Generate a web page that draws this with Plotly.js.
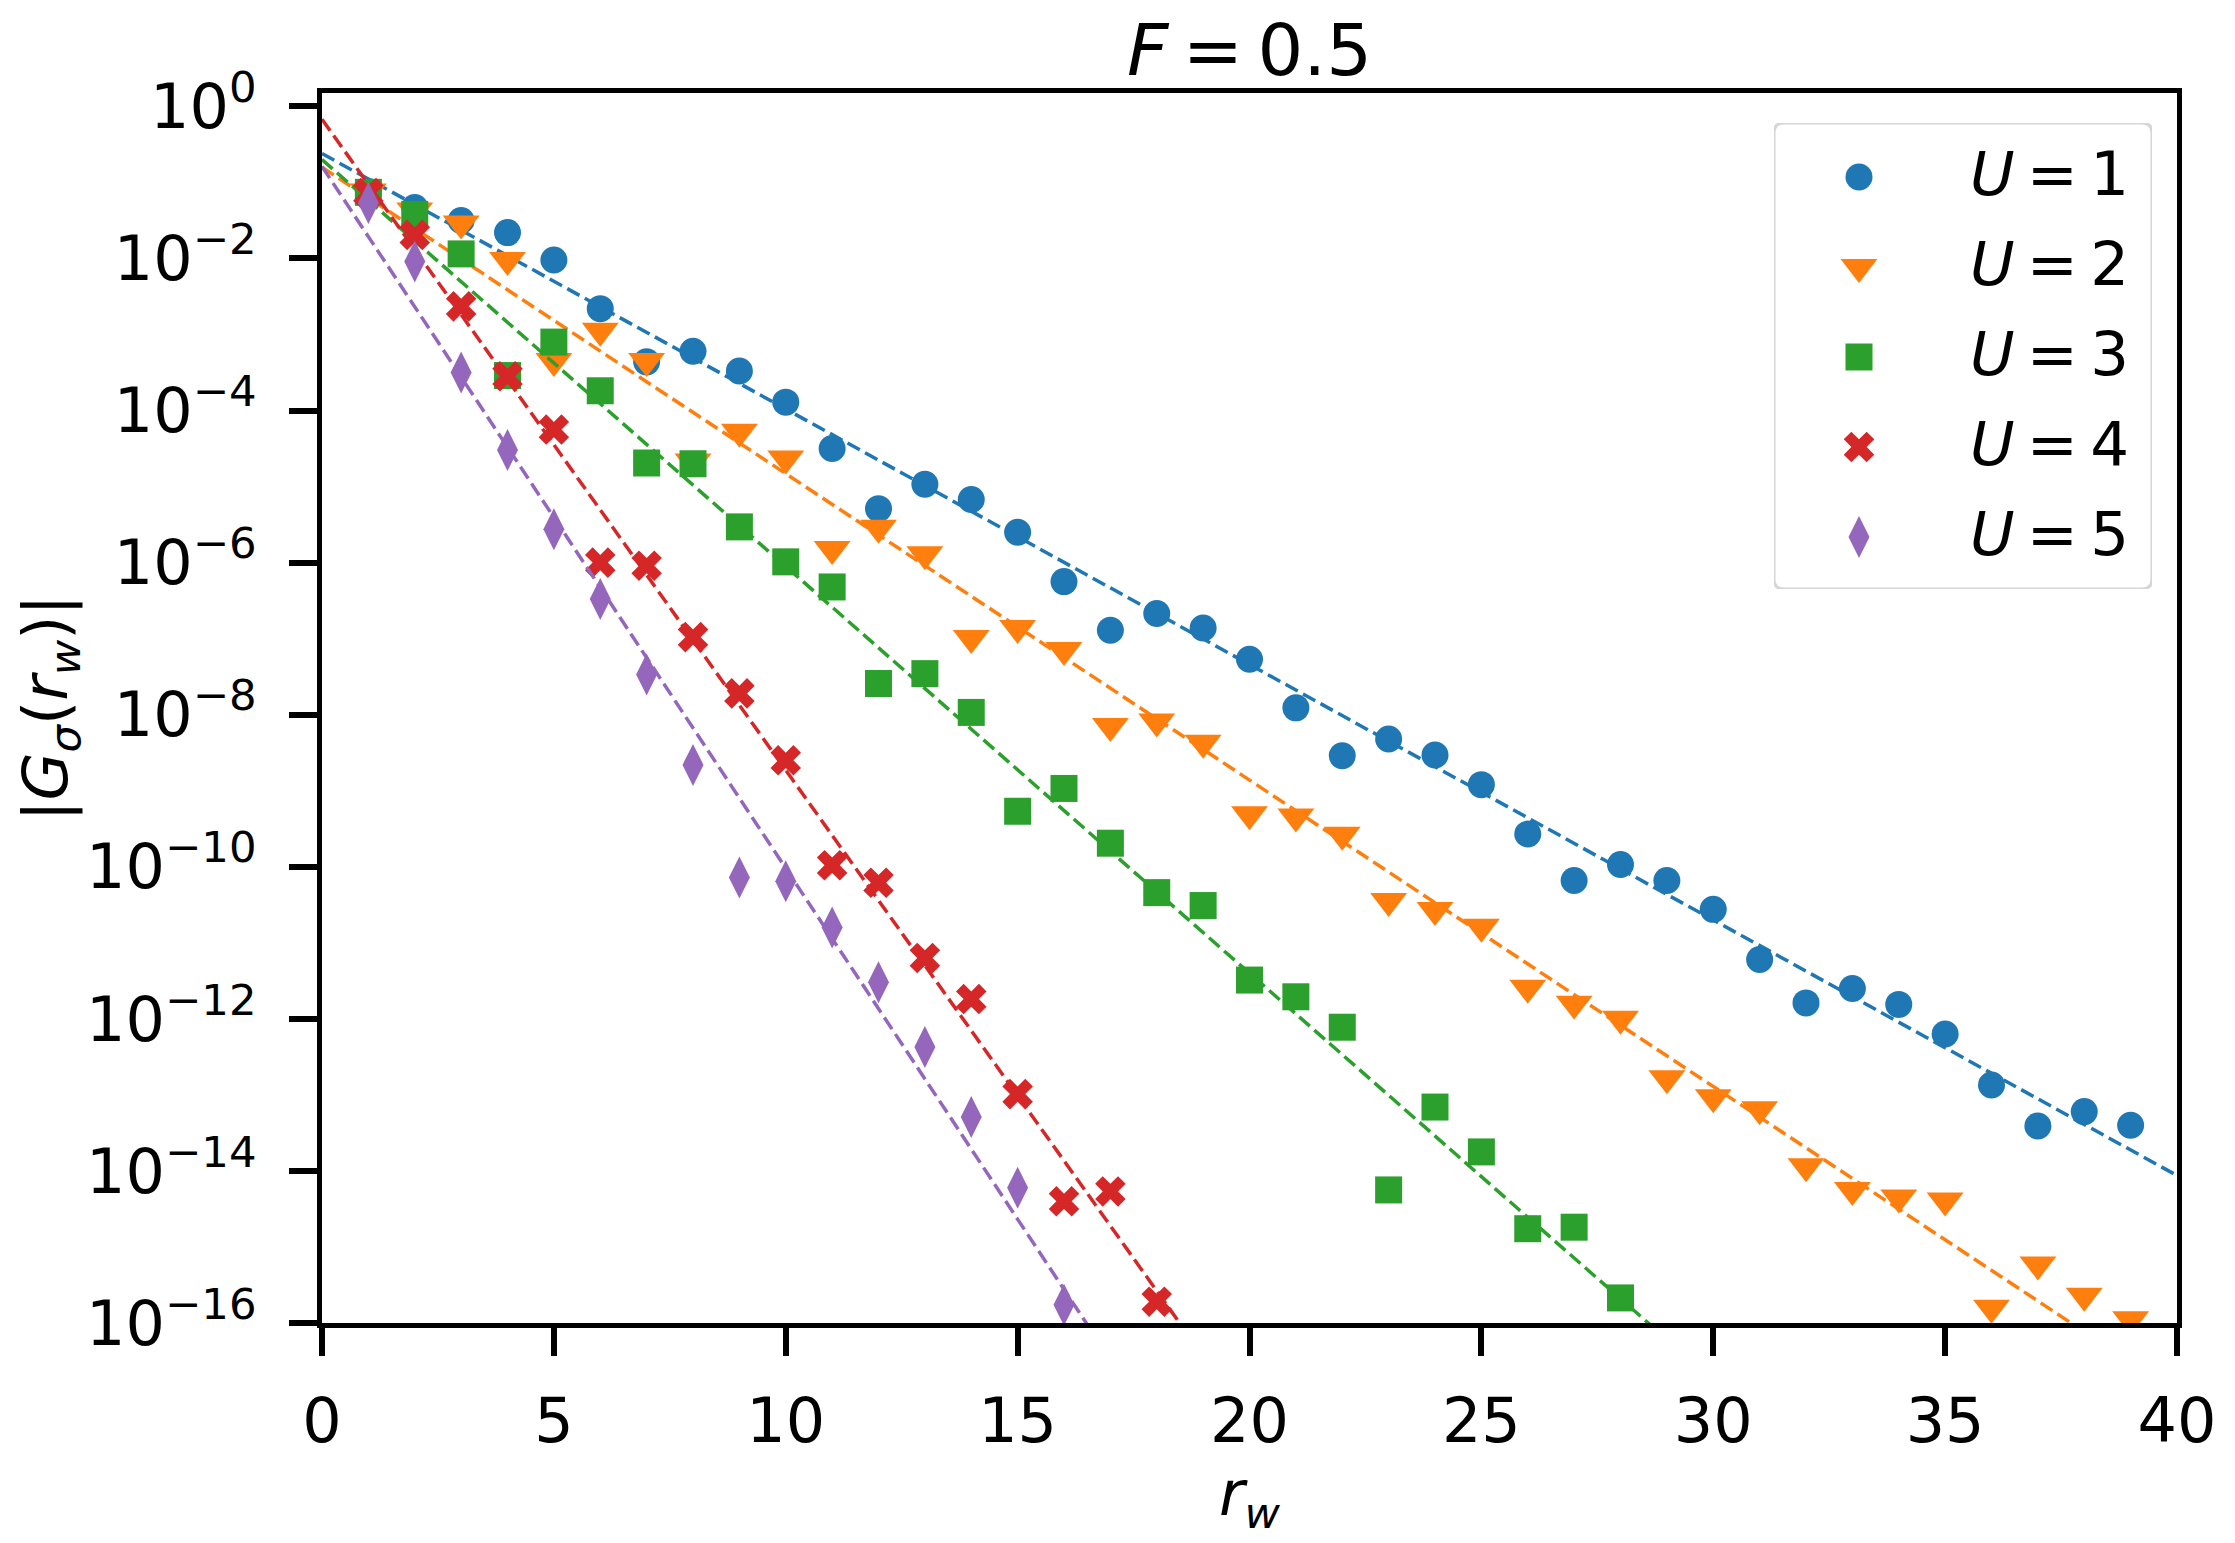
<!DOCTYPE html>
<html>
<head>
<meta charset="utf-8">
<script src="https://cdn.plot.ly/plotly-3.0.1.min.js"></script>
<style>
  html, body { margin: 0; padding: 0; background: #fff; }
  #plot { width: 2235px; height: 1543px; }
</style>
</head>
<body>
<div id="plot"></div>
<script>
// interaction strengths and colours (matplotlib tab10)
var uValues = [1, 2, 3, 4, 5];
var colors = ['#1f77b4', '#ff7f0e', '#2ca02c', '#d62728', '#9467bd'];
var symbols = ['circle', 'triangle-down', 'square', 'x', 'diamond-tall'];
var sizes = [27, 32, 27, 27, 30];

// log10 |G_sigma(r_w)|, r_w = 1, 2, 3, ...
var logG1 = [-1.12, -1.33, -1.50, -1.66, -2.02, -2.66, -3.36, -3.22, -3.48, -3.89,
             -4.50, -5.29, -4.97, -5.17, -5.60, -6.25, -6.89, -6.67, -6.86, -7.27,
             -7.91, -8.54, -8.32, -8.53, -8.92, -9.57, -10.18, -9.97, -10.18, -10.56,
             -11.22, -11.79, -11.60, -11.81, -12.20, -12.87, -13.41, -13.22, -13.40];
var logG2 = [-1.12, -1.37, -1.54, -2.02, -3.35, -2.95, -3.35, -4.67, -4.28, -4.63,
             -5.82, -5.54, -5.89, -6.99, -6.86, -7.15, -8.15, -8.09, -8.37, -9.31,
             -9.34, -9.58, -10.45, -10.57, -10.79, -11.59, -11.80, -12.00, -12.78, -13.03,
             -13.19, -13.94, -14.25, -14.35, -14.39, -15.80, -15.23, -15.64, -15.95];
var logG3 = [-1.13, -1.42, -1.94, -3.54, -3.10, -3.74, -4.69, -4.70, -5.53, -5.99,
             -6.32, -7.59, -7.46, -7.97, -9.27, -8.97, -9.69, -10.34, -10.51, -11.49,
             -11.71, -12.11, -14.25, -13.16, -13.75, -14.76, -14.74, -15.67];
var logG4 = [-1.14, -1.69, -2.63, -3.55, -4.25, -6.00, -6.04, -6.98, -7.72, -8.60,
             -9.98, -10.21, -11.20, -11.74, -12.99, -14.40, -14.27, -15.72];
var logG5 = [-1.27, -2.04, -3.50, -4.52, -5.56, -6.48, -7.47, -8.66, -10.14, -10.19,
             -10.80, -11.52, -12.37, -13.29, -14.22, -15.76];
var allLogG = [logG1, logG2, logG3, logG4, logG5];

// exponential fits: log10 G = a + b * r_w
var fitA = [-0.62, -0.80, -0.70, -0.17, -0.79];
var fitB = [-0.336, -0.403, -0.535, -0.856, -0.923];
var fitX = [0, 40];

var xTicks = [0, 5, 10, 15, 20, 25, 30, 35, 40];
var yTickExp = [0, -2, -4, -6, -8, -10, -12, -14, -16];

var font = 'DejaVu Sans, Liberation Sans, sans-serif';
var thin = '\u2009';

var traces = [];
allLogG.forEach(function(lg, i) {
  var xs = lg.map(function(v, k) { return k + 1; });
  traces.push({
    x: xs,
    y: lg.map(function(v) { return Math.pow(10, v); }),
    type: 'scatter',
    mode: 'markers',
    marker: { symbol: symbols[i], size: sizes[i], color: colors[i], line: { width: 0 } },
    showlegend: false,
    hoverinfo: 'skip'
  });
  traces.push({
    x: fitX,
    y: fitX.map(function(x) { return Math.pow(10, fitA[i] + fitB[i] * x); }),
    type: 'scatter',
    mode: 'lines',
    line: { color: colors[i], width: 3.5, dash: '14px,6px' },
    showlegend: false,
    hoverinfo: 'skip'
  });
});

// hand-made legend on a hidden pixel-like subplot, so the symbols keep their size
var legX0 = 1774, legX1 = 2152, legY0 = 123, legY1 = 589;
var annotations = [];
uValues.forEach(function(u, i) {
  var rowY = 177 + 90 * i;
  traces.push({
    x: [1859],
    y: [rowY],
    xaxis: 'x2',
    yaxis: 'y2',
    type: 'scatter',
    mode: 'markers',
    marker: { symbol: symbols[i], size: sizes[i], color: colors[i], line: { width: 0 } },
    cliponaxis: false,
    showlegend: false,
    hoverinfo: 'skip'
  });
  annotations.push({
    xref: 'x2', yref: 'y2',
    x: 1968, y: rowY, yshift: 4,
    xanchor: 'left', yanchor: 'middle',
    text: '<i>U</i>' + thin + '=' + thin + u,
    showarrow: false,
    font: { family: font, size: 61, color: '#000' }
  });
});

var r = 10;
var framePath = 'M' + (legX0 + r) + ',' + legY0 + ' L' + (legX1 - r) + ',' + legY0 +
  ' Q' + legX1 + ',' + legY0 + ' ' + legX1 + ',' + (legY0 + r) +
  ' L' + legX1 + ',' + (legY1 - r) +
  ' Q' + legX1 + ',' + legY1 + ' ' + (legX1 - r) + ',' + legY1 +
  ' L' + (legX0 + r) + ',' + legY1 +
  ' Q' + legX0 + ',' + legY1 + ' ' + legX0 + ',' + (legY1 - r) +
  ' L' + legX0 + ',' + (legY0 + r) +
  ' Q' + legX0 + ',' + legY0 + ' ' + (legX0 + r) + ',' + legY0 + ' Z';

var plotL = 322, plotR = 2177, plotT = 93, plotB = 1323;
var pw = plotR - plotL, ph = plotB - plotT;

var layout = {
  width: 2235,
  height: 1543,
  margin: { l: plotL, r: 2235 - plotR, t: plotT, b: 1543 - plotB, pad: 0 },
  paper_bgcolor: '#fff',
  plot_bgcolor: '#fff',
  font: { family: font, size: 60, color: '#000' },
  title: {
    text: '<i>F</i>' + thin + '=' + thin + '0.5',
    font: { family: font, size: 72, color: '#000' },
    x: 0.5, xref: 'paper', xanchor: 'center',
    y: 1 - 50 / 1543, yref: 'container', yanchor: 'middle'
  },
  xaxis: {
    range: [0, 40],
    tickvals: xTicks,
    ticktext: xTicks.map(String),
    ticks: 'outside', ticklen: 28, tickwidth: 6, tickcolor: '#000',
    ticklabelstandoff: 12,
    showline: true, linewidth: 5, linecolor: '#000', mirror: true,
    showgrid: false, zeroline: false,
    tickfont: { family: font, size: 62, color: '#000' },
    title: { text: '<i>r</i><sub><i>w</i></sub>', font: { family: font, size: 62, color: '#000' }, standoff: 7 }
  },
  yaxis: {
    type: 'log',
    range: [-16, 0.176],
    tickvals: yTickExp.map(function(e) { return Math.pow(10, e); }),
    ticktext: yTickExp.map(function(e) { return '10<sup>' + (e < 0 ? '\u2212' + (-e) : e) + '</sup>'; }),
    ticks: 'outside', ticklen: 28, tickwidth: 6, tickcolor: '#000',
    ticklabelstandoff: 20,
    showline: true, linewidth: 5, linecolor: '#000', mirror: true,
    showgrid: false, zeroline: false,
    tickfont: { family: font, size: 62, color: '#000' },
    title: {
      text: '|<i>G</i><sub><i>\u03c3</i></sub>(<i>r</i><sub><i>w</i></sub>)|',
      font: { family: font, size: 62, color: '#000' },
      standoff: 0
    }
  },
  xaxis2: {
    domain: [(legX0 - plotL) / pw, (legX1 - plotL) / pw],
    range: [legX0, legX1],
    anchor: 'y2', visible: false, fixedrange: true
  },
  yaxis2: {
    domain: [(plotB - legY1) / ph, (plotB - legY0) / ph],
    range: [legY1, legY0],
    anchor: 'x2', visible: false, fixedrange: true
  },
  shapes: [{
    type: 'path', xref: 'x2', yref: 'y2',
    path: framePath,
    line: { color: '#d6d6d6', width: 3 },
    fillcolor: '#ffffff',
    layer: 'below'
  }],
  annotations: annotations,
  showlegend: false
};

Plotly.newPlot('plot', traces, layout, { staticPlot: true });
</script>
</body>
</html>
